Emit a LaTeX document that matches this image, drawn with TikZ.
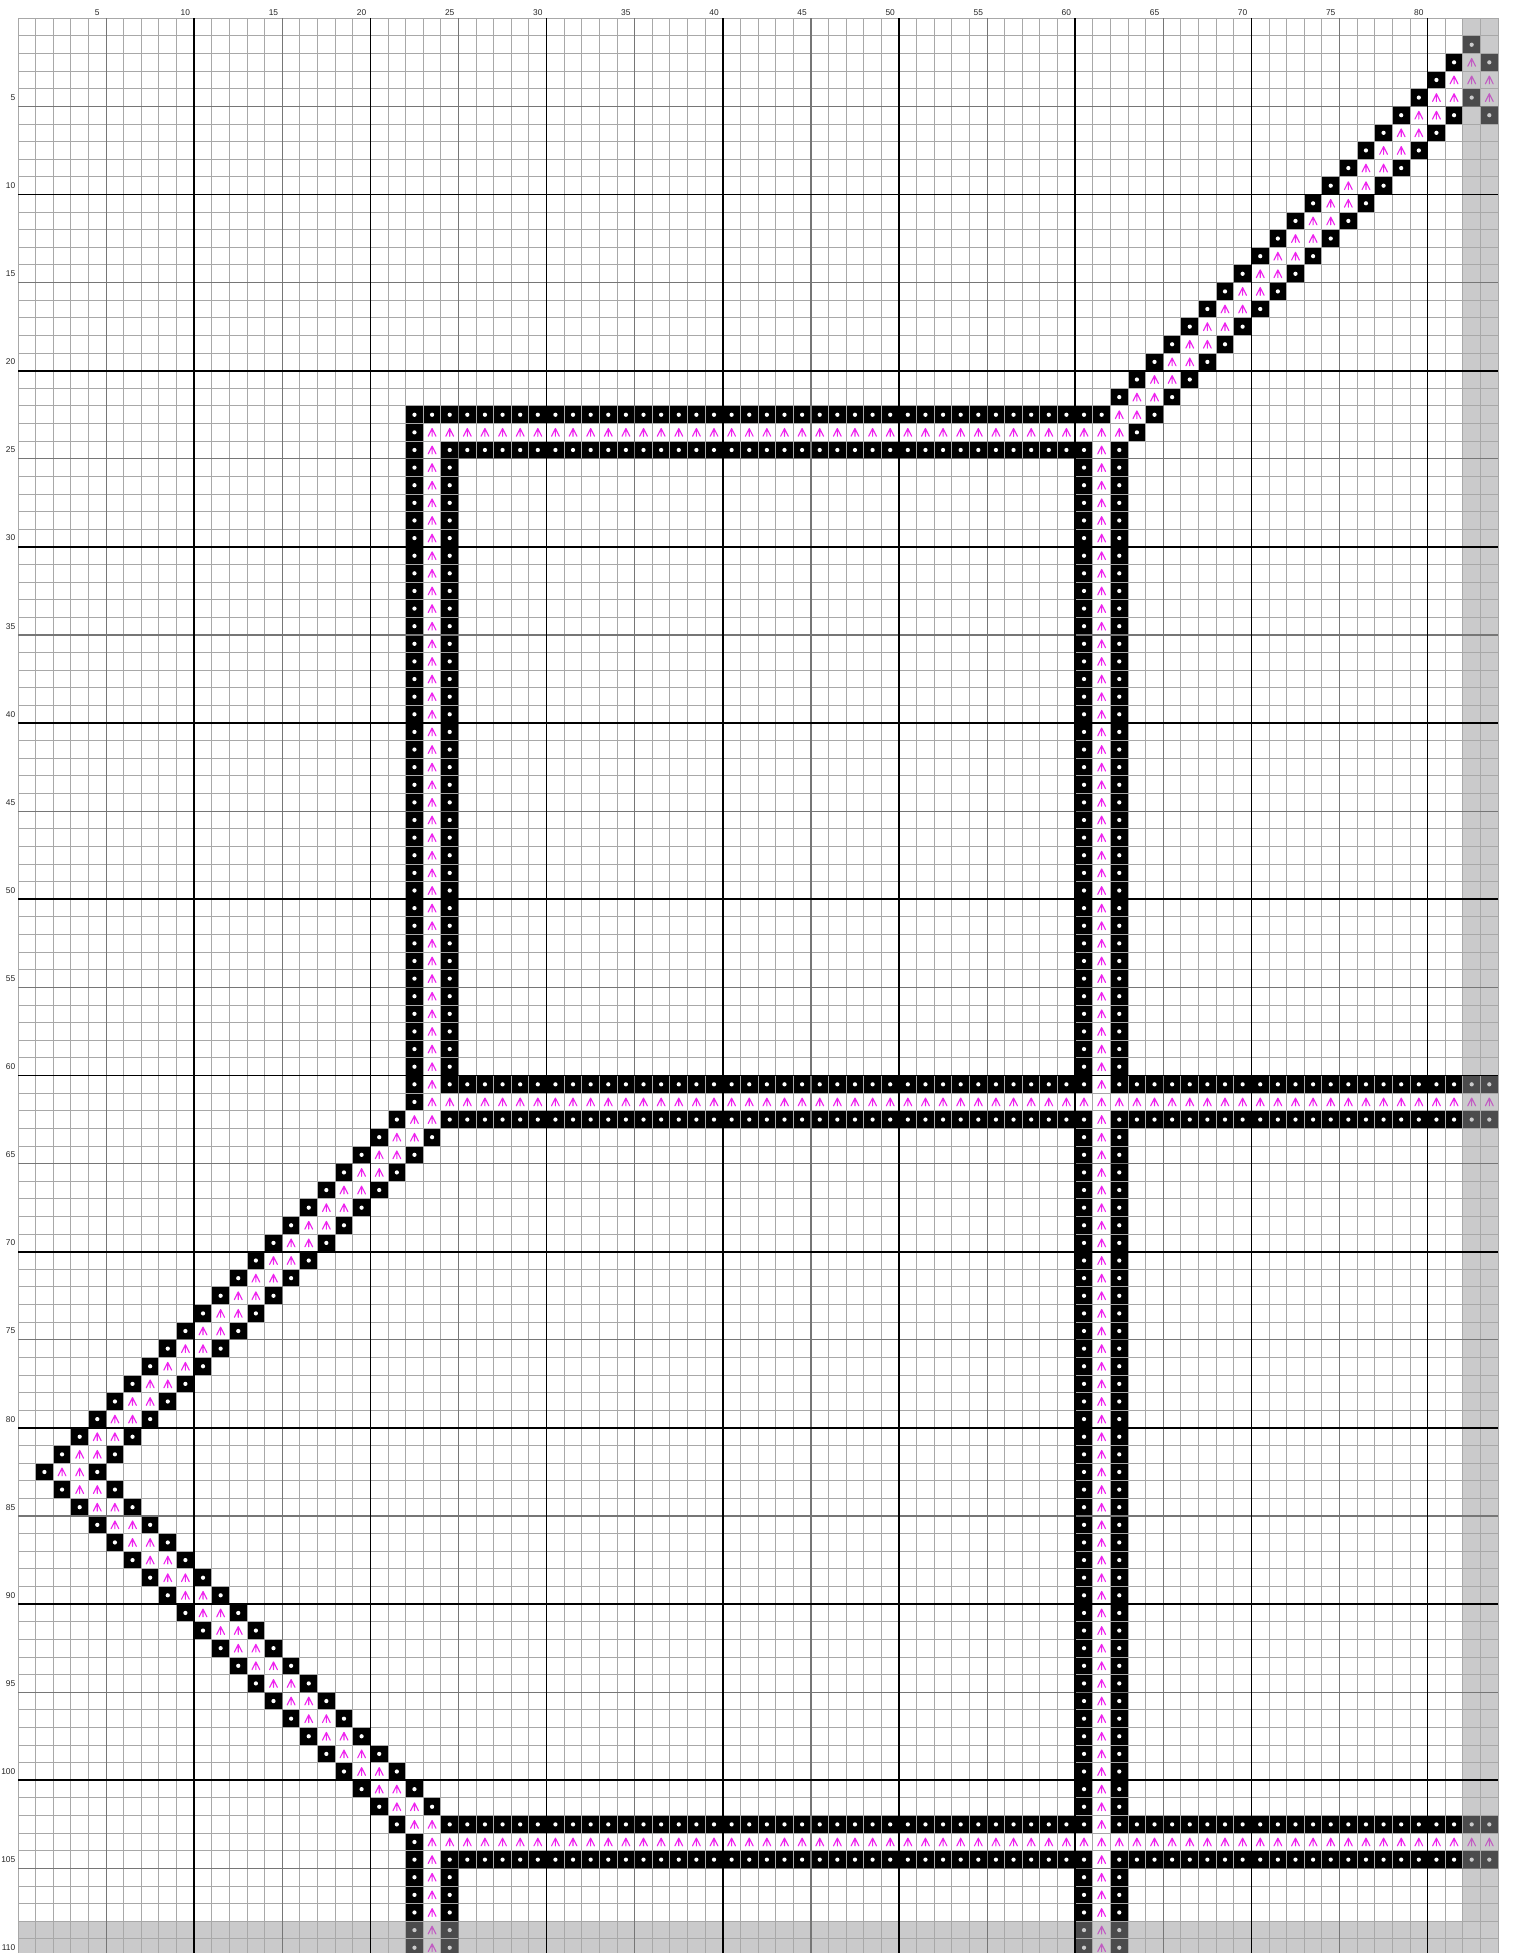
\documentclass[tikz,border=0pt]{standalone}
\usepackage{fontspec}
\newfontfamily\labfont{Liberation Sans}
\definecolor{symp}{RGB}{238,34,238}
\definecolor{thinl}{RGB}{168,168,168}
\definecolor{fifthl}{RGB}{118,118,118}
\definecolor{dimc}{RGB}{150,150,152}
\newcommand\bcell[2]{\fill[black] ({#1-1},{#2-1}) rectangle ({#1},{#2}); \fill[white] ({#1-0.5},{#2-0.5}) circle[radius=0.12];}
\newcommand\pcell[2]{\fill[white] ({#1-1},{#2-1}) rectangle ({#1},{#2}); \draw[symline] ({#1-0.72},{#2-0.28}) -- ({#1-0.5},{#2-0.72}) -- ({#1-0.28},{#2-0.28}) ({#1-0.5},{#2-0.72}) -- ({#1-0.5},{#2-0.28});}
\tikzset{
  symline/.style={draw=symp,line width=0.55pt,line cap=round,line join=round},
  thinrule/.style={draw=thinl,line width=0.5pt},
  fifthrule/.style={draw=fifthl,line width=0.6pt},
  tenthrule/.style={draw=black,line width=0.85pt},
  lab/.style={font=\labfont\fontsize{4.2pt}{5pt}\selectfont,inner sep=0pt,text=black!85}
}
\begin{document}
\begin{tikzpicture}[x=8.81pt,y=-8.81pt]
\useasboundingbox (-1.0216,-1.0386) rectangle (84.85,109.80);
\clip (-1.0216,-1.0386) rectangle (84.85,109.80);
% ---------- black cells ----------
\foreach \c in {23,...,62} {\bcell{\c}{23}}
\foreach \r in {24,...,62} {\bcell{23}{\r}}
\foreach \c in {25,...,61} {\bcell{\c}{25}}
\foreach \r in {26,...,61} {\bcell{25}{\r}}
\foreach \r in {25,...,110} {\bcell{61}{\r}\bcell{63}{\r}}
\foreach \c in {25,...,84} {\bcell{\c}{61}\bcell{\c}{63}\bcell{\c}{103}\bcell{\c}{105}}
\foreach \r in {104,...,110} {\bcell{23}{\r}}
\foreach \r in {105,...,110} {\bcell{25}{\r}}
\foreach \r in {4,...,24} {\bcell{85-\r}{\r}\bcell{88-\r}{\r}}
\bcell{83}{2}\bcell{82}{3}\bcell{84}{3}\bcell{84}{6}
\foreach \r in {63,...,83} {\bcell{85-\r}{\r}\bcell{88-\r}{\r}}
\foreach \r in {84,...,104} {\bcell{\r-81}{\r}\bcell{\r-78}{\r}}
% ---------- pink cells ----------
\foreach \c in {24,...,63} {\pcell{\c}{24}}
\foreach \r in {25,...,62} {\pcell{24}{\r}}
\foreach \r in {25,...,110} {\pcell{62}{\r}}
\foreach \c in {24,...,84} {\pcell{\c}{62}\pcell{\c}{104}}
\foreach \r in {105,...,110} {\pcell{24}{\r}}
\foreach \r in {4,...,24} {\pcell{86-\r}{\r}\pcell{87-\r}{\r}}
\pcell{83}{3}\pcell{84}{4}\pcell{84}{5}
\foreach \r in {63,...,83} {\pcell{86-\r}{\r}\pcell{87-\r}{\r}}
\foreach \r in {84,...,104} {\pcell{\r-80}{\r}\pcell{\r-79}{\r}}
% ---------- dimmed repeat zone ----------
\fill[dimc,opacity=0.5] (82,0) rectangle (84,110) (0,108) rectangle (82,110);
% ---------- grid ----------
\foreach \i in {0,...,84} {\draw[thinrule] (\i,0) -- (\i,110);}
\foreach \j in {0,...,110} {\draw[thinrule] (0,\j) -- (84,\j);}
\foreach \i in {5,15,...,75} {\draw[fifthrule] (\i,0) -- (\i,110);}
\foreach \j in {5,15,...,105} {\draw[fifthrule] (0,\j) -- (84,\j);}
\foreach \i in {10,20,...,80} {\draw[tenthrule] (\i,0) -- (\i,110);}
\foreach \j in {10,20,...,100} {\draw[tenthrule] (0,\j) -- (84,\j);}
% ---------- labels ----------
\foreach \c in {5,10,...,80} {\node[lab,anchor=base] (col\c) at ({\c-0.5},-0.15) {\c};}
\foreach \r in {5,10,...,110} {\node[lab,anchor=east] (row\r) at (-0.13,{\r-0.5}) {\r};}
\end{tikzpicture}
\end{document}
